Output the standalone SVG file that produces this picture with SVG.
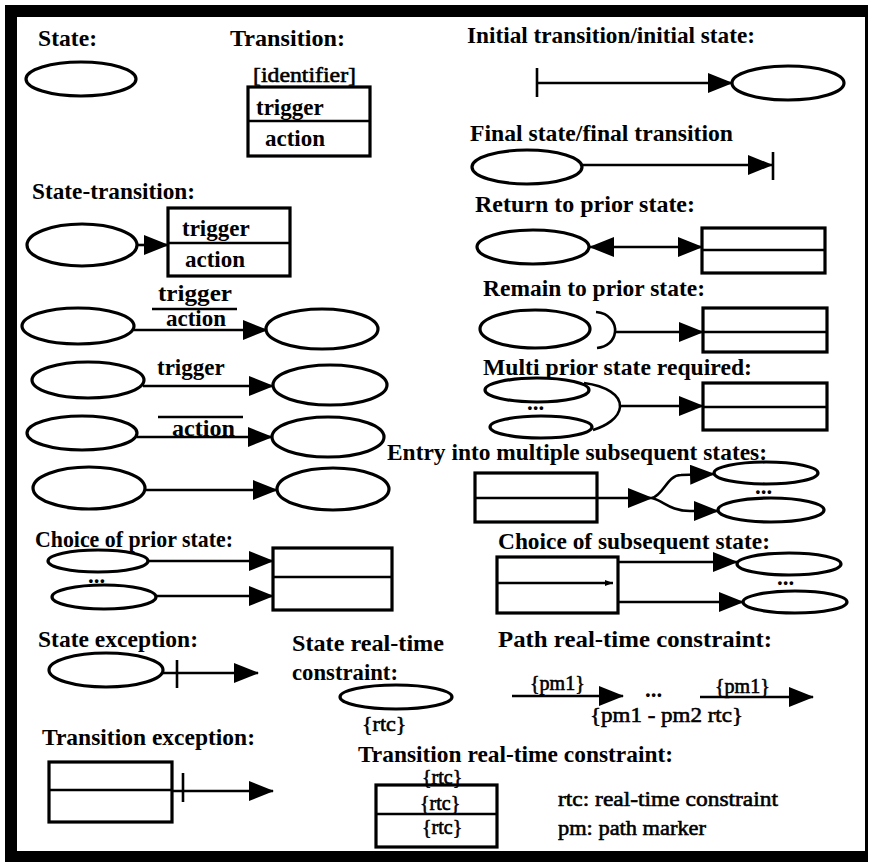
<svg xmlns="http://www.w3.org/2000/svg" width="872" height="862" viewBox="0 0 872 862">
<style>
.h{font-family:"Liberation Serif","Times New Roman",serif;font-weight:bold;font-size:23px;fill:#000}
.b{font-family:"Liberation Serif","Times New Roman",serif;font-weight:bold;font-size:23px;fill:#000}
.r{font-family:"Liberation Serif","Times New Roman",serif;font-weight:normal;font-size:22px;fill:#000;stroke:#000;stroke-width:0.6}
.s{font-family:"Liberation Serif","Times New Roman",serif;font-weight:normal;font-size:20px;fill:#000;stroke:#000;stroke-width:0.6}
.st{fill:#fff;stroke:#000;stroke-width:3.2}
.ln{fill:none;stroke:#000;stroke-width:2.6}
.a{fill:none;stroke:#000;stroke-width:2.6;marker-end:url(#ah)}
</style>
<defs>
<marker id="ah" viewBox="0 0 25 20" refX="24" refY="10" markerWidth="25" markerHeight="20" markerUnits="userSpaceOnUse" orient="auto-start-reverse">
<path d="M0,0 L25,10 L0,20 Z" fill="#000"/>
</marker>
<marker id="sm" viewBox="0 0 8 6" refX="8" refY="3" markerWidth="8" markerHeight="6" markerUnits="userSpaceOnUse" orient="auto">
<path d="M0,0 L8,3 L0,6 Z" fill="#000"/>
</marker>
</defs>
<rect x="0" y="0" width="872" height="862" fill="#fff"/>
<rect x="5" y="5" width="863" height="857" fill="#000"/>
<rect x="17" y="17" width="848" height="834" fill="#fff"/>

<g id="headers">
<text class="h" x="38" y="46" textLength="59" lengthAdjust="spacingAndGlyphs">State:</text>
<text class="h" x="230" y="46" textLength="115" lengthAdjust="spacingAndGlyphs">Transition:</text>
<text class="h" x="467" y="43" textLength="288" lengthAdjust="spacingAndGlyphs">Initial transition/initial state:</text>
<text class="h" x="470" y="141" textLength="263" lengthAdjust="spacingAndGlyphs">Final state/final transition</text>
<text class="h" x="32" y="199" textLength="163" lengthAdjust="spacingAndGlyphs">State-transition:</text>
<text class="h" x="475" y="212" textLength="220" lengthAdjust="spacingAndGlyphs">Return to prior state:</text>
<text class="h" x="483" y="296" textLength="222" lengthAdjust="spacingAndGlyphs">Remain to prior state:</text>
<text class="h" x="483" y="375" textLength="269" lengthAdjust="spacingAndGlyphs">Multi prior state required:</text>
<text class="h" x="387" y="460" textLength="380" lengthAdjust="spacingAndGlyphs">Entry into multiple subsequent states:</text>
<text class="h" x="35" y="547" textLength="198" lengthAdjust="spacingAndGlyphs">Choice of prior state:</text>
<text class="h" x="498" y="549" textLength="272" lengthAdjust="spacingAndGlyphs">Choice of subsequent state:</text>
<text class="h" x="38" y="647" textLength="160" lengthAdjust="spacingAndGlyphs">State exception:</text>
<text class="h" x="292" y="651" textLength="152" lengthAdjust="spacingAndGlyphs">State real-time</text>
<text class="h" x="292" y="680" textLength="106" lengthAdjust="spacingAndGlyphs">constraint:</text>
<text class="h" x="498" y="647" textLength="274" lengthAdjust="spacingAndGlyphs">Path real-time constraint:</text>
<text class="h" x="42" y="745" textLength="213" lengthAdjust="spacingAndGlyphs">Transition exception:</text>
<text class="h" x="358" y="762" textLength="315" lengthAdjust="spacingAndGlyphs">Transition real-time constraint:</text>
</g>

<g id="state">
<ellipse class="st" cx="81" cy="79" rx="55" ry="17"/>
</g>

<g id="transition">
<text class="r" x="253" y="82" textLength="103" lengthAdjust="spacingAndGlyphs">[identifier]</text>
<rect class="st" x="248" y="87" width="122" height="69"/>
<line class="ln" x1="248" y1="121" x2="370" y2="121"/>
<text class="b" x="256" y="115">trigger</text>
<text class="b" x="265" y="146">action</text>
</g>

<g id="state-transition">
<ellipse class="st" cx="82" cy="245" rx="55" ry="21"/>
<rect class="st" x="168" y="208" width="122" height="68"/>
<line class="ln" x1="168" y1="243" x2="290" y2="243"/>
<text class="b" x="182" y="236">trigger</text>
<text class="b" x="185" y="267">action</text>
</g>

<g id="row1">
<ellipse class="st" cx="78" cy="326" rx="56" ry="18"/>
<ellipse class="st" cx="322" cy="329" rx="56" ry="20"/>
<text class="b" x="158" y="301" textLength="74" lengthAdjust="spacingAndGlyphs">trigger</text>
<line class="ln" x1="152" y1="309" x2="237" y2="309"/>
<text class="b" x="166" y="326">action</text>
</g>
<g id="row2">
<ellipse class="st" cx="88" cy="380" rx="56" ry="18"/>
<ellipse class="st" cx="330" cy="385" rx="57" ry="20"/>
<text class="b" x="157" y="375">trigger</text>
</g>
<g id="row3">
<ellipse class="st" cx="82" cy="433" rx="55" ry="17"/>
<ellipse class="st" cx="328" cy="437" rx="56" ry="20"/>
<line class="ln" x1="158" y1="417" x2="243" y2="417"/>
<text class="b" x="172" y="436" textLength="63" lengthAdjust="spacingAndGlyphs">action</text>
</g>
<g id="row4">
<ellipse class="st" cx="89" cy="488" rx="56" ry="21"/>
<ellipse class="st" cx="333" cy="489" rx="56" ry="21"/>
</g>

<g id="choice-prior">
<ellipse class="st" cx="98" cy="561" rx="50" ry="11"/>
<ellipse class="st" cx="104" cy="597" rx="52" ry="12"/>
<text class="b" x="88" y="583" font-size="16">...</text>
<rect class="st" x="273" y="548" width="119" height="62"/>
<line class="ln" x1="273" y1="577" x2="392" y2="577"/>
</g>

<g id="state-exception">
<ellipse class="st" cx="106" cy="670" rx="57" ry="17"/>
<line class="ln" x1="177" y1="660" x2="177" y2="688" stroke-width="3"/>
</g>

<g id="transition-exception">
<rect class="st" x="49" y="762" width="123" height="60"/>
<line class="ln" x1="49" y1="790" x2="172" y2="790"/>
<line class="ln" x1="183" y1="773" x2="183" y2="802" stroke-width="3"/>
</g>

<g id="initial">
<line class="ln" x1="537" y1="68" x2="537" y2="97" stroke-width="3"/>
<ellipse class="st" cx="788" cy="83" rx="56" ry="17"/>
</g>

<g id="final">
<ellipse class="st" cx="527" cy="167" rx="55" ry="17"/>
<line class="ln" x1="773" y1="152" x2="773" y2="180" stroke-width="3"/>
</g>

<g id="return">
<ellipse class="st" cx="533" cy="247" rx="56" ry="17"/>
<rect class="st" x="702" y="228" width="123" height="45"/>
<line class="ln" x1="702" y1="250" x2="825" y2="250"/>
</g>

<g id="remain">
<ellipse class="st" cx="535" cy="329" rx="55" ry="19"/>
<path class="ln" stroke-width="3.2" d="M596,312 C610,313 616,324 615,332 C614,341 607,347 597,348"/>
<rect class="st" x="703" y="308" width="124" height="44"/>
<line class="ln" x1="703" y1="332" x2="827" y2="332"/>
</g>

<g id="multi">
<ellipse class="st" cx="537" cy="390" rx="52" ry="12"/>
<ellipse class="st" cx="541" cy="427" rx="51" ry="11"/>
<text class="b" x="527" y="410" font-size="16">...</text>
<path class="ln" stroke-width="3.2" d="M584,383 C606,386 621,395 620,407 C619,418 606,426 593,430"/>
<rect class="st" x="703" y="383" width="124" height="47"/>
<line class="ln" x1="703" y1="407" x2="827" y2="407"/>
</g>

<g id="entry">
<rect class="st" x="475" y="473" width="122" height="49"/>
<line class="ln" x1="475" y1="498" x2="597" y2="498"/>
<ellipse class="st" cx="766" cy="473" rx="52" ry="11"/>
<ellipse class="st" cx="771" cy="510" rx="53" ry="12"/>
<text class="b" x="755" y="494" font-size="16">...</text>
</g>

<g id="choice-subsequent">
<rect class="st" x="497" y="557" width="121" height="56"/>
<line class="ln" x1="497" y1="583" x2="613" y2="583" marker-end="url(#sm)"/>
<ellipse class="st" cx="789" cy="564" rx="52" ry="11"/>
<ellipse class="st" cx="795" cy="602" rx="52" ry="11"/>
<text class="b" x="777" y="585" font-size="16">...</text>
</g>

<g id="state-rtc">
<ellipse class="st" cx="396" cy="697" rx="56" ry="12"/>
<text class="r" x="362" y="731">{rtc}</text>
</g>

<g id="path-rtc">
<text class="s" x="530" y="690">{pm1}</text>
<text class="b" x="645" y="697" font-size="16">...</text>
<text class="s" x="715" y="693">{pm1}</text>
<text class="r" x="590" y="722" textLength="153" lengthAdjust="spacingAndGlyphs">{pm1 - pm2 rtc}</text>
</g>

<g id="transition-rtc">
<rect class="st" x="376" y="785" width="121" height="62"/>
<line class="ln" x1="376" y1="814" x2="497" y2="814"/>
<text class="s" x="422" y="784" font-size="18">{rtc}</text>
<text class="s" x="420" y="810">{rtc}</text>
<text class="s" x="422" y="834">{rtc}</text>
</g>

<g id="legend">
<text class="r" x="558" y="806" textLength="220" lengthAdjust="spacingAndGlyphs">rtc: real-time constraint</text>
<text class="r" x="558" y="835" textLength="148" lengthAdjust="spacingAndGlyphs">pm: path marker</text>
</g>

<g id="connectors">
<line class="a" x1="137" y1="245" x2="168" y2="245"/>
<line class="a" x1="134" y1="330" x2="267" y2="330"/>
<line class="a" x1="143" y1="386" x2="273" y2="386"/>
<line class="a" x1="137" y1="437" x2="272" y2="437"/>
<line class="a" x1="145" y1="490" x2="277" y2="490"/>
<line class="a" x1="148" y1="561" x2="273" y2="561"/>
<line class="a" x1="157" y1="596" x2="273" y2="596"/>
<line class="a" x1="163" y1="673" x2="258" y2="673"/>
<line class="a" x1="172" y1="791" x2="273" y2="791"/>
<line class="a" x1="537" y1="83" x2="732" y2="83"/>
<line class="a" x1="582" y1="165" x2="772" y2="165"/>
<line class="a" x1="590" y1="247" x2="702" y2="247" marker-start="url(#ah)"/>
<line class="a" x1="615" y1="332" x2="703" y2="332"/>
<line class="a" x1="620" y1="406" x2="703" y2="406"/>
<line class="a" x1="597" y1="498" x2="652" y2="498"/>
<path class="a" d="M652,498 C664,495 667,475 681,475 L714,474"/>
<path class="a" d="M652,498 C664,501 670,511 690,511 L718,511"/>
<line class="a" x1="618" y1="562" x2="737" y2="562"/>
<line class="a" x1="618" y1="602" x2="743" y2="602"/>
<line class="a" x1="512" y1="696" x2="623" y2="696"/>
<line class="a" x1="700" y1="697" x2="813" y2="697"/>
</g>
</svg>
